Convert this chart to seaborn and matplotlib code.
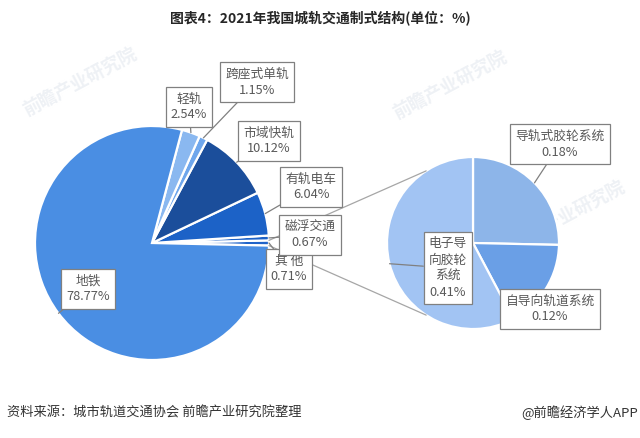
import numpy as np
import matplotlib
matplotlib.use("Agg")
import matplotlib.pyplot as plt
import seaborn as sns

# ---- data ----
main_labels = ["其他", "磁浮交通", "有轨电车", "市域快轨", "跨座式单轨", "轻轨", "地铁"]
main_values = [0.71, 0.67, 6.04, 10.12, 1.15, 2.54, 78.77]
main_colors = ["#1F63C9", "#1D61C6", "#1C62C7", "#1B4E9B", "#6EA6EC", "#8AB8F0", "#4A8EE3"]

sub_labels = ["导轨式胶轮系统", "自导向轨道系统", "电子导向胶轮系统"]
sub_values = [0.18, 0.12, 0.41]
sub_colors = ["#8DB5E9", "#6A9FE6", "#A2C4F3"]

title = "图表4：2021年我国城轨交通制式结构(单位：%)"
source = "资料来源：城市轨道交通协会 前瞻产业研究院整理"
credit = "@前瞻经济学人APP"

sns.set_theme(style="white")
plt.rcParams['font.family'] = ['Noto Sans CJK SC', 'DejaVu Sans']

fig = plt.figure(figsize=(6.4, 4.38), dpi=100)
ax = fig.add_axes([0, 0, 1, 1])

# watermarks
for (wx, wy) in [(80, 355), (450, 352), (568, 222)]:
    ax.text(wx, wy, "前瞻产业研究院", fontsize=13, color="#eef1f5", rotation=28,
            ha="center", va="center", fontweight="bold", zorder=0)

c1 = (152, 195); r1 = 117
c2 = (473, 195); r2 = 86

start1 = -main_values[0] / 100 * 360 / 2
w1, _ = ax.pie(main_values, colors=main_colors, startangle=start1, counterclock=True,
               center=c1, radius=r1, frame=True,
               wedgeprops=dict(edgecolor="white", linewidth=1.6))
w2, _ = ax.pie(sub_values, colors=sub_colors, startangle=90, counterclock=False,
               center=c2, radius=r2, frame=True,
               wedgeprops=dict(edgecolor="white", linewidth=1.6))
ax.set_xlim(0, 640)
ax.set_ylim(0, 438)
ax.set_aspect("auto")
ax.axis("off")

def pt(center, r, ang):
    a = np.deg2rad(ang)
    return (center[0] + r * np.cos(a), center[1] + r * np.sin(a))

# connector lines between pies
other = w1[0]
p_up = pt(c1, r1, other.theta2)
p_dn = pt(c1, r1, other.theta1)
q_up = pt(c2, r2, 123)
q_dn = pt(c2, r2, -123)
ax.plot([p_up[0], q_up[0]], [p_up[1], q_up[1]], color="#a6a6a6", lw=0.9, zorder=1)
ax.plot([p_dn[0], q_dn[0]], [p_dn[1], q_dn[1]], color="#a6a6a6", lw=0.9, zorder=1)

box = dict(boxstyle="square,pad=0.4", fc="white", ec="#808080", lw=0.9)
txtc = "#595959"

main_pos = {
    "其他": (289, 169),
    "磁浮交通": (310, 203),
    "有轨电车": (311, 251),
    "市域快轨": (269, 297),
    "跨座式单轨": (257, 356),
    "轻轨": (189, 331),
    "地铁": (88, 149),
}
for w, lab, val in zip(w1, main_labels, main_values):
    mid = (w.theta1 + w.theta2) / 2
    xy = pt(c1, r1, mid)
    name = "其 他" if lab == "其他" else lab
    ax.annotate(f"{name}\n{val:.2f}%", xy=xy, xytext=main_pos[lab],
                ha="center", va="center", fontsize=9.2, color=txtc, linespacing=1.3,
                bbox=box, zorder=5,
                arrowprops=dict(arrowstyle="-", color="#808080", lw=0.9,
                                shrinkA=0, shrinkB=0))

sub_pos = {
    "导轨式胶轮系统": (560, 294),
    "自导向轨道系统": (550, 129),
    "电子导向胶轮系统": (448, 170),
}
sub_text = {
    "导轨式胶轮系统": "导轨式胶轮系统",
    "自导向轨道系统": "自导向轨道系统",
    "电子导向胶轮系统": "电子导\n向胶轮\n系统",
}
for w, lab, val in zip(w2, sub_labels, sub_values):
    mid = (w.theta1 + w.theta2) / 2
    xy = pt(c2, r2, mid)
    ap = None if lab == "自导向轨道系统" else dict(arrowstyle="-", color="#808080", lw=0.9,
                                                 shrinkA=0, shrinkB=0)
    ax.annotate(f"{sub_text[lab]}\n{val:.2f}%", xy=xy, xytext=sub_pos[lab],
                ha="center", va="center", fontsize=9.2, color=txtc, linespacing=1.3,
                bbox=box, zorder=5, arrowprops=ap)

ax.text(320, 420, title, ha="center", va="center", fontsize=10, fontweight="bold",
        color="#262626")
ax.text(7, 25, source, ha="left", va="center", fontsize=9.5, color="#333333")
ax.text(638, 25, credit, ha="right", va="center", fontsize=9.5, color="#333333")

fig.savefig("out.png", dpi=100)
